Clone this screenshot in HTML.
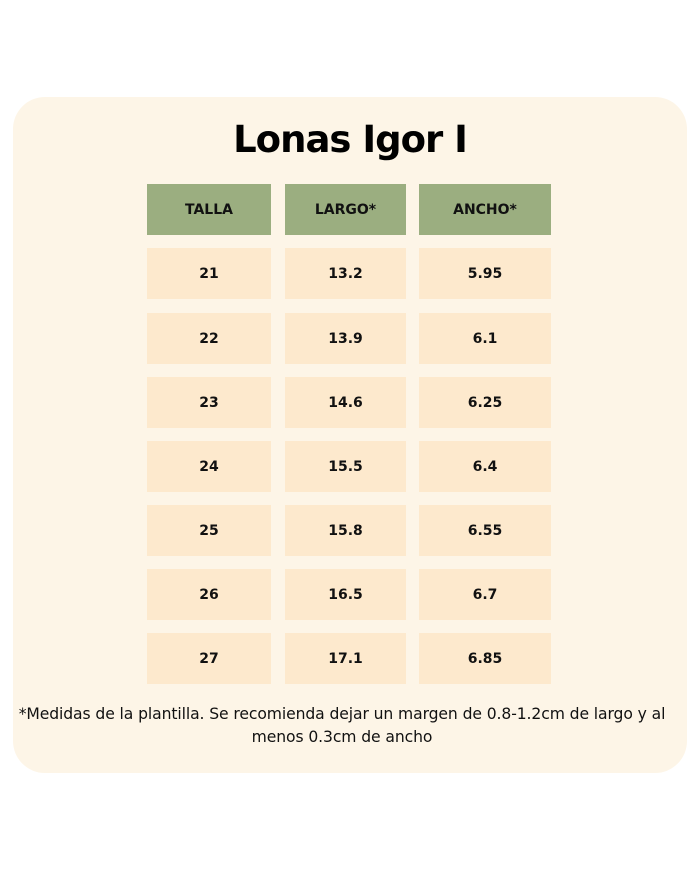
<!DOCTYPE html>
<html><head><style>
body{margin:0;width:700px;height:869px;background:#fff;position:relative;font-family:"Liberation Sans",sans-serif;}
.card{position:absolute;left:13px;top:97px;width:674px;height:676px;background:#fdf5e7;border-radius:32px;}
.t{position:absolute;left:0;width:700px;top:118px;text-align:center;font-size:37px;font-weight:bold;color:#000;font-family:"DejaVu Sans",sans-serif;letter-spacing:-1px;}
.c{position:absolute;display:flex;align-items:center;justify-content:center;font-weight:bold;font-size:14px;color:#111;background:#fde9cd;height:51px;font-family:"DejaVu Sans",sans-serif;}
.h{background:#9bae80;}
.n{position:absolute;left:-8px;width:700px;top:703px;text-align:center;font-size:15.6px;line-height:23px;color:#111;font-family:"DejaVu Sans",sans-serif;letter-spacing:-0.1px;}
</style></head><body>
<div class="card"></div>
<div class="t">Lonas Igor I</div>
<div class="c h" style="left:147px;width:124px;top:184px">TALLA</div>
<div class="c h" style="left:285px;width:121px;top:184px">LARGO*</div>
<div class="c h" style="left:419px;width:132px;top:184px">ANCHO*</div>
<div class="c" style="left:147px;width:124px;top:248px">21</div><div class="c" style="left:285px;width:121px;top:248px">13.2</div><div class="c" style="left:419px;width:132px;top:248px">5.95</div>
<div class="c" style="left:147px;width:124px;top:313px">22</div><div class="c" style="left:285px;width:121px;top:313px">13.9</div><div class="c" style="left:419px;width:132px;top:313px">6.1</div>
<div class="c" style="left:147px;width:124px;top:377px">23</div><div class="c" style="left:285px;width:121px;top:377px">14.6</div><div class="c" style="left:419px;width:132px;top:377px">6.25</div>
<div class="c" style="left:147px;width:124px;top:441px">24</div><div class="c" style="left:285px;width:121px;top:441px">15.5</div><div class="c" style="left:419px;width:132px;top:441px">6.4</div>
<div class="c" style="left:147px;width:124px;top:505px">25</div><div class="c" style="left:285px;width:121px;top:505px">15.8</div><div class="c" style="left:419px;width:132px;top:505px">6.55</div>
<div class="c" style="left:147px;width:124px;top:569px">26</div><div class="c" style="left:285px;width:121px;top:569px">16.5</div><div class="c" style="left:419px;width:132px;top:569px">6.7</div>
<div class="c" style="left:147px;width:124px;top:633px">27</div><div class="c" style="left:285px;width:121px;top:633px">17.1</div><div class="c" style="left:419px;width:132px;top:633px">6.85</div>
<div class="n">*Medidas de la plantilla. Se recomienda dejar un margen de 0.8-1.2cm de largo y al<br>menos 0.3cm de ancho</div>
</body></html>
